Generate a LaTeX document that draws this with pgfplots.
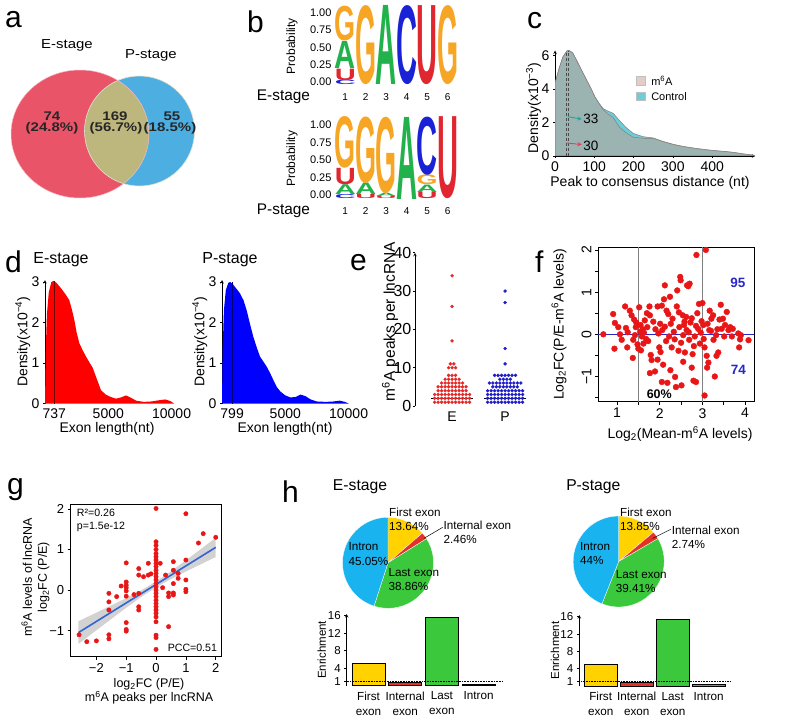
\documentclass[border=0pt]{standalone}
\usepackage{fontspec}
\setmainfont{Liberation Sans}
\usepackage{graphicx}
\usepackage{pgfplots}
\pgfplotsset{compat=1.18}

\definecolor{vred}{RGB}{234,84,104}
\definecolor{vblue}{RGB}{77,174,226}
\definecolor{vlens}{RGB}{190,183,125}
\definecolor{lgG}{RGB}{247,165,36}
\definecolor{lgA}{RGB}{34,178,76}
\definecolor{lgC}{RGB}{26,34,214}
\definecolor{lgU}{RGB}{224,38,47}
\definecolor{ccyan}{RGB}{110,205,215}
\definecolor{cpink}{RGB}{200,155,141}
\definecolor{arrcyan}{RGB}{40,160,160}
\definecolor{arrred}{RGB}{225,60,90}
\definecolor{ered}{RGB}{230,40,40}
\definecolor{eblue}{RGB}{30,30,200}
\definecolor{fred}{RGB}{232,22,22}
\definecolor{fblue}{RGB}{40,40,200}
\definecolor{gline}{RGB}{50,100,210}
\definecolor{pyel}{RGB}{255,210,0}
\definecolor{pred}{RGB}{228,50,40}
\definecolor{pgreen}{RGB}{60,200,60}
\definecolor{pblue}{RGB}{25,180,240}

\pgfplotsset{
  base/.style={scale only axis, scaled ticks=false,
    /pgf/number format/assume math mode=true,
    axis line style={-, line width=0.6pt},
    tick style={line width=0.6pt, black}},
}
\newcommand{\LL}[5]{\node[anchor=south, inner sep=0pt, outer sep=0pt] at (axis cs:#1,#2) {\resizebox*{21pt}{#3pt}{\textcolor{#4}{\bfseries #5}}};}
\newcommand{\fz}[1]{\fontsize{#1}{#1}\selectfont}

\begin{document}
\begin{tikzpicture}
\useasboundingbox (0pt,0pt) rectangle (800pt,-719pt);

% ================= overlay: venn, pies, titles, letters =================
\begin{axis}[at={(0pt,0pt)}, anchor=north west, scale only axis, width=800pt, height=719pt,
  xmin=0, xmax=800, ymin=0, ymax=719, y dir=reverse, hide axis, clip=false]
% Venn
\fill[vred] (axis cs:80,134) ellipse [x radius=69pt, y radius=64pt];
\fill[vblue] (axis cs:139.5,131) circle [radius=55pt];
\begin{scope}
\clip (axis cs:80,134) ellipse [x radius=69pt, y radius=64pt];
\fill[vlens] (axis cs:139.5,131) circle [radius=55pt];
\end{scope}
\draw[white!60!vlens, line width=0.6pt] (axis cs:139.5,131) circle [radius=55pt];
\draw[white!60!vred, line width=0.5pt] (axis cs:80,134) ellipse [x radius=69pt, y radius=64pt];
\node[anchor=base, font=\bfseries\fz{12.5}, text=black!85] at (axis cs:52,120) {\scalebox{1.2}[1]{74}};
\node[anchor=base, font=\bfseries\fz{12.5}, text=black!85] at (axis cs:52,131.5) {\scalebox{1.2}[1]{(24.8\%)}};
\node[anchor=base, font=\bfseries\fz{12.5}, text=black!85] at (axis cs:115,120) {\scalebox{1.2}[1]{169}};
\node[anchor=base, font=\bfseries\fz{12.5}, text=black!85] at (axis cs:116,131.5) {\scalebox{1.2}[1]{(56.7\%)}};
\node[anchor=base, font=\bfseries\fz{12.5}, text=black!85] at (axis cs:172,120) {\scalebox{1.2}[1]{55}};
\node[anchor=base, font=\bfseries\fz{12.5}, text=black!85] at (axis cs:170,131.5) {\scalebox{1.2}[1]{(18.5\%)}};
\node[anchor=base, font=\fz{13}] at (axis cs:67,48.3) {\scalebox{1.15}[1]{E-stage}};
\node[anchor=base, font=\fz{13}] at (axis cs:151,58.3) {\scalebox{1.15}[1]{P-stage}};
% panel letters
\node[anchor=base west, inner sep=0pt, font=\fz{30}] at (axis cs:5,27) {a};
\node[anchor=base west, inner sep=0pt, font=\fz{30}] at (axis cs:247,32) {b};
\node[anchor=base west, inner sep=0pt, font=\fz{30}] at (axis cs:527,28) {c};
\node[anchor=base west, inner sep=0pt, font=\fz{30}] at (axis cs:5,272) {d};
\node[anchor=base west, inner sep=0pt, font=\fz{30}] at (axis cs:350,270) {e};
\node[anchor=base west, inner sep=0pt, font=\fz{30}] at (axis cs:535,272) {f};
\node[anchor=base west, inner sep=0pt, font=\fz{30}] at (axis cs:7,494) {g};
\node[anchor=base west, inner sep=0pt, font=\fz{30}] at (axis cs:282,502) {h};
% titles
\node[anchor=base, font=\fz{15.4}] at (axis cs:283.5,100) {E-stage};
\node[anchor=base, font=\fz{15.4}] at (axis cs:283.5,214) {P-stage};
\node[anchor=base, font=\fz{16}] at (axis cs:61,263.3) {E-stage};
\node[anchor=base, font=\fz{16}] at (axis cs:230,263.3) {P-stage};
\node[anchor=base, font=\fz{15.7}] at (axis cs:360,490) {E-stage};
\node[anchor=base, font=\fz{15.7}] at (axis cs:593.3,490) {P-stage};
% pie E
\filldraw[fill=pyel, draw=white, line width=0.3pt] (axis cs:388,562.8) -- ++(90:45.5pt) arc[start angle=90, end angle=40.9, radius=45.5pt] -- cycle;
\filldraw[fill=pred, draw=white, line width=0.3pt] (axis cs:388,562.8) -- ++(40.9:45.5pt) arc[start angle=40.9, end angle=32.04, radius=45.5pt] -- cycle;
\filldraw[fill=pgreen, draw=white, line width=0.3pt] (axis cs:388,562.8) -- ++(32.04:45.5pt) arc[start angle=32.04, end angle=-107.86, radius=45.5pt] -- cycle;
\filldraw[fill=pblue, draw=white, line width=0.3pt] (axis cs:388,562.8) -- ++(-107.86:45.5pt) arc[start angle=-107.86, end angle=-270, radius=45.5pt] -- cycle;
% pie P
\filldraw[fill=pyel, draw=white, line width=0.3pt] (axis cs:618.7,561.5) -- ++(90:45.5pt) arc[start angle=90, end angle=40.14, radius=45.5pt] -- cycle;
\filldraw[fill=pred, draw=white, line width=0.3pt] (axis cs:618.7,561.5) -- ++(40.14:45.5pt) arc[start angle=40.14, end angle=30.28, radius=45.5pt] -- cycle;
\filldraw[fill=pgreen, draw=white, line width=0.3pt] (axis cs:618.7,561.5) -- ++(30.28:45.5pt) arc[start angle=30.28, end angle=-111.6, radius=45.5pt] -- cycle;
\filldraw[fill=pblue, draw=white, line width=0.3pt] (axis cs:618.7,561.5) -- ++(-111.6:45.5pt) arc[start angle=-111.6, end angle=-270, radius=45.5pt] -- cycle;
% pie labels E
\node[anchor=base west, inner sep=0pt, font=\fz{11.7}] at (axis cs:389,516.5) {First exon};
\node[anchor=base west, inner sep=0pt, font=\fz{11.7}] at (axis cs:389,530.5) {13.64\%};
\node[anchor=base west, inner sep=0pt, font=\fz{11.7}] at (axis cs:443.3,529) {Internal exon};
\node[anchor=base west, inner sep=0pt, font=\fz{11.7}] at (axis cs:443.3,543) {2.46\%};
\node[anchor=base west, inner sep=0pt, font=\fz{11.7}] at (axis cs:348.3,550.7) {Intron};
\node[anchor=base west, inner sep=0pt, font=\fz{11.7}] at (axis cs:348.3,565) {45.05\%};
\node[anchor=base west, inner sep=0pt, font=\fz{11.7}] at (axis cs:388.3,576) {Last exon};
\node[anchor=base west, inner sep=0pt, font=\fz{11.7}] at (axis cs:388.3,590) {38.86\%};
\draw[black, line width=0.5pt] (axis cs:424,538.3) -- (axis cs:442.7,527.3);
% pie labels P
\node[anchor=base west, inner sep=0pt, font=\fz{11.7}] at (axis cs:620,516) {First exon};
\node[anchor=base west, inner sep=0pt, font=\fz{11.7}] at (axis cs:620,530) {13.85\%};
\node[anchor=base west, inner sep=0pt, font=\fz{11.7}] at (axis cs:671.7,534) {Internal exon};
\node[anchor=base west, inner sep=0pt, font=\fz{11.7}] at (axis cs:671.7,548.3) {2.74\%};
\node[anchor=base west, inner sep=0pt, font=\fz{11.7}] at (axis cs:580,550.7) {Intron};
\node[anchor=base west, inner sep=0pt, font=\fz{11.7}] at (axis cs:580,564) {44\%};
\node[anchor=base west, inner sep=0pt, font=\fz{11.7}] at (axis cs:615.7,578.3) {Last exon};
\node[anchor=base west, inner sep=0pt, font=\fz{11.7}] at (axis cs:615.7,592.3) {39.41\%};
\draw[black, line width=0.5pt] (axis cs:652.7,538.3) -- (axis cs:670.7,529.3);
\end{axis}

% ================= b: E-stage logo =================
\begin{axis}[base, at={(335pt,-6pt)}, anchor=north west, width=123pt, height=79pt,
  xmin=0.5, xmax=6.5, ymin=0, ymax=1, clip=false,
  axis line style={draw=none}, tick style={draw=none},
  xtick={1,2,3,4,5,6}, ytick={0.038,0.257,0.476,0.695,0.914},
  yticklabels={0.00,0.25,0.50,0.75,1.00},
  xticklabel style={font=\fz{10}, yshift=-5pt},
  yticklabel style={font=\fz{11}},
  ylabel={Probability},
  ylabel style={at={(axis description cs:-0.35,0.49)}, anchor=center, font=\fz{12}}]
\LL{1}{0}{4.5}{lgC}{C}
\LL{1}{0.06}{11.5}{lgU}{U}
\LL{1}{0.21}{27}{lgA}{A}
\LL{1}{0.56}{34.8}{lgG}{G}
\LL{2}{0}{79}{lgG}{G}
\LL{3}{0}{79}{lgA}{A}
\LL{4}{0}{79}{lgC}{C}
\LL{5}{0}{79}{lgU}{U}
\LL{6}{0}{79}{lgG}{G}
\end{axis}

% ================= b: P-stage logo =================
\begin{axis}[base, at={(335pt,-117pt)}, anchor=north west, width=123pt, height=82pt,
  xmin=0.5, xmax=6.5, ymin=0, ymax=1, clip=false,
  axis line style={draw=none}, tick style={draw=none},
  xtick={1,2,3,4,5,6}, ytick={0.049,0.262,0.476,0.689,0.902},
  yticklabels={0.00,0.25,0.50,0.75,1.00},
  xticklabel style={font=\fz{10}, yshift=-5pt},
  yticklabel style={font=\fz{11}},
  ylabel={Probability},
  ylabel style={at={(axis description cs:-0.35,0.49)}, anchor=center, font=\fz{12}}]
\LL{1}{0}{4.1}{lgC}{C}
\LL{1}{0.05}{9.8}{lgA}{A}
\LL{1}{0.17}{16.4}{lgU}{U}
\LL{1}{0.37}{51.7}{lgG}{G}
\LL{2}{0}{4.1}{lgU}{U}
\LL{2}{0.05}{11.5}{lgA}{A}
\LL{2}{0.19}{66.4}{lgG}{G}
\LL{3}{0}{2.5}{lgU}{U}
\LL{3}{0.03}{3.3}{lgA}{A}
\LL{3}{0.07}{76.3}{lgG}{G}
\LL{4}{0}{82}{lgA}{A}
\LL{5}{0}{6.6}{lgU}{U}
\LL{5}{0.08}{7.4}{lgA}{A}
\LL{5}{0.17}{9.8}{lgG}{G}
\LL{5}{0.29}{58.2}{lgC}{C}
\LL{6}{0}{82}{lgU}{U}
\end{axis}

% ================= c: density =================
\begin{axis}[base, at={(555pt,-50.5pt)}, anchor=north west, width=200.4pt, height=105.5pt,
  xmin=0, xmax=510, ymin=0, ymax=6.3,
  axis x line=bottom, axis y line=left,
  xtick={0,100,200,300,400}, ytick={0,2,4,6},
  tick align=outside, major tick length=2pt,
  tick label style={font=\fz{14}},
  ylabel={Density(x10\textsuperscript{−3})},
  ylabel style={at={(axis description cs:-0.107,0.455)}, anchor=center, font=\fz{14}},
  xlabel={Peak to consensus distance (nt)},
  xlabel style={at={(axis description cs:0.474,-0.256)}, anchor=center, font=\fz{14}},
  legend image code/.code={\filldraw[#1] (0pt,-3.5pt) rectangle (8.5pt,5pt);},
  legend style={at={(axis description cs:0.405,0.78)}, anchor=north west, draw=none, fill=none,
    font=\fz{11}, row sep=1.5pt, inner sep=0pt,
    /tikz/every odd column/.append style={column sep=4pt}},
  legend cell align=left]
\addlegendimage{fill=white!50!cpink, draw=gray!50}
\addlegendentry{m\textsuperscript{6}A}
\addlegendimage{fill=ccyan, draw=gray!50}
\addlegendentry{Control}
\addplot[fill=ccyan, draw=gray, line width=0.5pt] coordinates {
(0,4.35)(10,5.2)(20,5.9)(30,6.25)(35,6.3)(45,6.15)(55,5.7)(70,5.0)(81,4.5)(92,4.0)(102,3.5)(113,3.12)(123,2.82)(135,2.68)(148,2.55)(164,2.12)(180,1.72)(199,1.35)(225,1.15)(250,1.08)(275,0.86)(301,0.68)(325,0.56)(352,0.46)(378,0.38)(403,0.32)(430,0.27)(454,0.21)(480,0.11)(505,0.04)} \closedcycle;
\addplot[fill=cpink, fill opacity=0.5, draw=gray, line width=0.5pt] coordinates {
(0,4.35)(10,5.2)(20,5.92)(30,6.27)(35,6.32)(45,6.17)(55,5.72)(70,5.02)(81,4.52)(92,4.02)(102,3.52)(113,3.1)(123,2.75)(135,2.5)(148,2.3)(164,1.72)(180,1.4)(199,1.12)(225,1.06)(250,1.05)(275,0.87)(301,0.7)(325,0.58)(352,0.48)(378,0.4)(403,0.33)(430,0.28)(454,0.22)(480,0.13)(505,0.05)} \closedcycle;
\addplot[densely dashed, black!70, line width=0.6pt] coordinates {(30,0)(30,6.24)};
\addplot[densely dashed, black!70, line width=0.6pt] coordinates {(33,0)(33,6.28)};
\addplot[-stealth, arrcyan, line width=0.9pt] coordinates {(33,2.35)(68,2.2)};
\addplot[-stealth, arrred, line width=0.9pt] coordinates {(30,0.78)(68,0.68)};
\node[anchor=west, inner sep=1pt, font=\fz{13.5}] at (axis cs:69,2.2) {33};
\node[anchor=west, inner sep=1pt, font=\fz{13.5}] at (axis cs:69,0.62) {30};
\end{axis}

% ================= d: E-stage =================
\begin{axis}[base, at={(45pt,-280pt)}, anchor=north west, width=145.6pt, height=123.5pt,
  xmin=0, xmax=11500, ymin=0, ymax=3.05,
  axis y line=left, axis x line=bottom, x axis line style={draw=none},
  xtick={737,5000,10000}, xticklabels={737,5000,10000}, xtick style={draw=none},
  ytick={0,1,2,3}, tick align=outside, major tick length=2pt,
  tick label style={font=\fz{14}},
  ylabel={Density(x10\textsuperscript{−4})},
  ylabel style={at={(axis description cs:-0.153,0.5)}, anchor=center, font=\fz{14}},
  xlabel={Exon length(nt)},
  xlabel style={at={(axis description cs:0.426,-0.206)}, anchor=center, font=\fz{14}}]
\addplot[fill=red, draw=none] coordinates {
(0,0)(60,1.3)(150,2.2)(300,2.75)(500,3.0)(700,3.03)(900,2.98)(1260,2.85)(1660,2.68)(1920,2.55)(2100,2.35)(2320,2.06)(2500,1.75)(2710,1.49)(3000,1.3)(3240,1.16)(3500,1.02)(3770,0.88)(4100,0.6)(4420,0.33)(4800,0.22)(5200,0.16)(5600,0.12)(6000,0.15)(6400,0.2)(6800,0.14)(7200,0.07)(7800,0.04)(8400,0.05)(9000,0.08)(9500,0.1)(9900,0.06)(10200,0)} \closedcycle;
\addplot[black!55!red, line width=0.8pt] coordinates {(737,0)(737,3.03)};
\end{axis}

% ================= d: P-stage =================
\begin{axis}[base, at={(222pt,-280pt)}, anchor=north west, width=145.6pt, height=123.5pt,
  xmin=0, xmax=11500, ymin=0, ymax=3.05,
  axis y line=left, axis x line=bottom, x axis line style={draw=none},
  xtick={799,5000,10000}, xticklabels={799,5000,10000}, xtick style={draw=none},
  ytick={0,1,2,3}, tick align=outside, major tick length=2pt,
  tick label style={font=\fz{14}},
  ylabel={Density(x10\textsuperscript{−4})},
  ylabel style={at={(axis description cs:-0.153,0.5)}, anchor=center, font=\fz{14}},
  xlabel={Exon length(nt)},
  xlabel style={at={(axis description cs:0.433,-0.206)}, anchor=center, font=\fz{14}}]
\addplot[fill=blue, draw=none] coordinates {
(0,0)(50,1.3)(150,2.3)(300,2.8)(500,2.98)(650,3.0)(850,2.95)(1100,2.85)(1400,2.73)(1700,2.55)(1950,2.3)(2200,1.98)(2470,1.65)(2750,1.38)(3000,1.16)(3300,1.02)(3530,0.91)(3800,0.75)(4100,0.55)(4320,0.41)(4600,0.3)(5000,0.2)(5400,0.15)(5800,0.16)(6200,0.22)(6600,0.18)(7000,0.1)(7500,0.05)(8200,0.04)(8800,0.05)(9300,0.07)(9700,0.04)(10000,0)} \closedcycle;
\addplot[black!55!blue, line width=0.8pt] coordinates {(799,0)(799,3.0)};
\end{axis}

% ================= e: dot plot =================
\begin{axis}[base, at={(415pt,-252.8pt)}, anchor=north west, width=116.6pt, height=153.2pt,
  xmin=0.3, xmax=2.5, ymin=0, ymax=40, clip=false,
  axis y line=left, axis x line=bottom, x axis line style={draw=none},
  xtick={1,2}, xticklabels={E,P}, xtick style={draw=none},
  ytick={0,10,20,30,40}, tick align=outside, major tick length=2pt,
  yticklabel style={font=\fz{16}, inner sep=1.5pt},
  xticklabel style={font=\fz{14}},
  ylabel={m\textsuperscript{6}A peaks per lncRNA},
  ylabel style={at={(axis description cs:-0.214,0.55)}, anchor=center, font=\fz{15.5}}]
\addplot[only marks, mark=*, mark size=1.5pt, ered, mark options={draw=none, fill=ered}] coordinates {
(0.67,1)(0.736,1)(0.802,1)(0.868,1)(0.934,1)(1,1)(1.066,1)(1.132,1)(1.198,1)(1.264,1)(1.33,1)
(0.67,2)(0.736,2)(0.802,2)(0.868,2)(0.934,2)(1,2)(1.066,2)(1.132,2)(1.198,2)(1.264,2)(1.33,2)
(0.67,3)(0.736,3)(0.802,3)(0.868,3)(0.934,3)(1,3)(1.066,3)(1.132,3)(1.198,3)(1.264,3)(1.33,3)
(0.736,4)(0.802,4)(0.868,4)(0.934,4)(1,4)(1.066,4)(1.132,4)(1.198,4)(1.264,4)
(0.736,5)(0.802,5)(0.868,5)(0.934,5)(1,5)(1.066,5)(1.132,5)(1.198,5)(1.264,5)
(0.802,6)(0.868,6)(0.934,6)(1,6)(1.066,6)(1.132,6)(1.198,6)
(0.868,7)(0.934,7)(1,7)(1.066,7)(1.132,7)
(0.934,8)(1,8)(1.066,8)
(0.934,10)(1,10)(1.066,10)
(0.967,11)(1.033,11)
(1,17)(1,26)(1,34)};
\addplot[only marks, mark=*, mark size=1.5pt, eblue, mark options={draw=none, fill=eblue}] coordinates {
(1.67,1)(1.736,1)(1.802,1)(1.868,1)(1.934,1)(2,1)(2.066,1)(2.132,1)(2.198,1)(2.264,1)(2.33,1)
(1.67,2)(1.736,2)(1.802,2)(1.868,2)(1.934,2)(2,2)(2.066,2)(2.132,2)(2.198,2)(2.264,2)(2.33,2)
(1.67,3)(1.736,3)(1.802,3)(1.868,3)(1.934,3)(2,3)(2.066,3)(2.132,3)(2.198,3)(2.264,3)(2.33,3)
(1.67,4)(1.736,4)(1.802,4)(1.868,4)(1.934,4)(2,4)(2.066,4)(2.132,4)(2.198,4)(2.264,4)(2.33,4)
(1.769,5)(1.835,5)(1.901,5)(1.967,5)(2.033,5)(2.099,5)(2.165,5)(2.231,5)
(1.703,6)(1.769,6)(1.835,6)(1.901,6)(1.967,6)(2.033,6)(2.099,6)(2.165,6)(2.231,6)(2.297,6)
(1.901,7)(1.967,7)(2.033,7)(2.099,7)
(1.802,8)(1.868,8)(1.934,8)(2,8)(2.066,8)(2.132,8)(2.198,8)
(2,11)(2,15)(2,27)(2,30)};
\addplot[black, line width=1.2pt] coordinates {(0.6,2)(1.4,2)};
\addplot[black, line width=1.2pt] coordinates {(1.6,2)(2.4,2)};
\end{axis}

% ================= f: scatter =================
\begin{axis}[base, at={(598pt,-247pt)}, anchor=north west, width=156pt, height=154.7pt,
  xmin=0.555, xmax=4.208, ymin=-1.597, ymax=2.069,
  xtick={1,2,3,4}, ytick={-1,0,1,2}, yticklabels={−1,0,1,2},
  minor xtick={1.5,2.5,3.5}, minor ytick={-1.5,-0.5,0.5,1.5},
  tick align=outside, xtick pos=left, ytick pos=left,
  major tick length=3pt, minor tick length=3pt,
  minor tick style={line width=0.6pt, black},
  tick label style={font=\fz{14}},
  yticklabel style={rotate=90, anchor=south},
  ylabel={Log\textsubscript{2}FC(P/E-m\textsuperscript{6}A levels)},
  ylabel style={at={(axis description cs:-0.25,0.5)}, anchor=center, font=\fz{14}},
  xlabel={Log\textsubscript{2}(Mean-m\textsuperscript{6}A levels)},
  xlabel style={at={(axis description cs:0.526,-0.209)}, anchor=center, font=\fz{14}}]
\addplot[gray, line width=0.7pt] coordinates {(1.5,-1.597)(1.5,2.069)};
\addplot[gray, line width=0.7pt] coordinates {(3,-1.597)(3,2.069)};
\addplot[only marks, mark=*, mark size=2.9pt, fred, mark options={draw=none, fill=fred}] coordinates {
(0.68,0)(0.91,0.48)(0.95,0.27)(0.94,-0.34)(1.03,0.17)(1.07,0)(1.11,-0.13)(1.19,0.66)(1.21,0.15)(1.24,-0.31)(1.3,0.56)(1.34,0.45)(1.37,-0.56)(1.38,-0.13)(1.4,0.35)(1.42,-0.02)(1.44,0.17)(1.48,-0.24)(1.5,-0.34)(1.52,0.64)(1.54,0.06)(1.55,0.22)(1.58,-0.05)(1.6,0.12)(1.63,0.04)(1.65,0.33)(1.68,-0.11)(1.71,0.17)(1.73,-0.16)(1.76,0.66)(1.77,0.45)(1.79,-0.49)(1.81,-0.61)(1.77,-0.92)(1.89,-0.88)(1.95,0.66)(1.97,0.02)(1.99,-0.31)(2.01,0.25)(2.05,-1.13)(2.06,0.1)(2.08,-0.72)(2.1,0.83)(2.12,1.16)(2.15,-0.16)(2.16,0.56)(2.18,-1.15)(2.2,0.48)(2.22,-0.05)(2.24,0.89)(2.26,0.25)(2.28,-0.31)(2.3,0.37)(2.33,0.06)(2.36,-1.01)(2.38,-1.25)(2.4,0.66)(2.41,1.04)(2.44,-0.39)(2.46,0.17)(2.48,1.36)(2.49,1.28)(2.51,-1.21)(2.54,0.45)(2.55,-0.02)(2.57,0.22)(2.59,-0.43)(2.62,0.41)(2.63,0.1)(2.64,1.16)(2.67,1.14)(2.69,-0.13)(2.7,1.2)(2.72,0.28)(2.75,-0.79)(2.77,-0.47)(2.79,-1.1)(2.82,-0.05)(2.85,-1.13)(2.86,1.88)(2.88,0.5)(2.9,0.13)(2.92,0.72)(2.94,-0.22)(2.96,0.04)(2.98,0.31)(3,0.74)(3.02,0.22)(3.03,-0.11)(3.05,-0.31)(3.08,2.0)(3.05,-1.45)(3.1,-0.51)(3.11,-0.79)(3.14,-0.67)(3.16,0.1)(3.17,0.56)(3.21,0.37)(3.26,-0.13)(3.29,-1.0)(3.32,-0.02)(3.33,-0.51)(3.37,-0.43)(3.4,0.35)(3.43,0.7)(3.45,0.13)(3.48,0.37)(3.51,-0.05)(3.53,0.22)(3.57,0.53)(3.61,0.1)(3.65,0.17)(3.69,-0.05)(3.71,0.13)(3.84,0.02)(3.86,-0.31)(3.9,-0.02)(4.08,-0.14)(3.88,-0.12)
(1.62,-0.22)(1.85,0.3)(1.9,0.12)(2.02,-0.42)(2.12,0.18)(2.35,-0.12)(2.45,0.52)(2.5,-0.2)(2.58,0.3)(2.68,0.05)(2.75,0.38)(2.8,-0.28)(3.12,0.25)(3.2,0.08)(3.25,0.45)(3.35,0.12)(1.25,0.05)(1.45,0.28)(1.56,-0.38)(1.7,0.5)(1.95,-0.6)(2.25,-0.85)(2.55,-0.65)(2.05,0.68)(2.85,0.2)};
\addplot[fblue, line width=0.8pt] coordinates {(0.555,0)(4.208,0)};
\node[font=\bfseries\fz{13.5}, text=fblue] at (axis cs:3.83,1.21) {95};
\node[font=\bfseries\fz{13.5}, text=fblue] at (axis cs:3.84,-0.84) {74};
\node[font=\bfseries\fz{12.5}] at (axis cs:1.99,-1.41) {60\%};
\end{axis}

% ================= g: scatter regression =================
\begin{axis}[base, at={(70.7pt,-504pt)}, anchor=north west, width=151pt, height=152.7pt,
  xmin=-2.86, xmax=2.2, ymin=-1.64, ymax=2.12,
  xtick={-2,-1,0,1,2}, xticklabels={−2,−1,0,1,2},
  ytick={-1,0,1,2}, yticklabels={−1,0,1,2},
  tick align=outside, xtick pos=left, ytick pos=left, major tick length=3pt,
  tick label style={font=\fz{13}},
  ylabel={m\textsuperscript{6}A levels of lncRNA\\log\textsubscript{2}FC (P/E)},
  ylabel style={at={(axis description cs:-0.233,0.52)}, anchor=center, align=center, font=\fontsize{12.5}{15}\selectfont},
  xlabel={log\textsubscript{2}FC (P/E)\\m\textsuperscript{6}A peaks per lncRNA},
  xlabel style={at={(axis description cs:0.519,-0.225)}, anchor=center, align=center, font=\fontsize{12.5}{14.5}\selectfont}]
\addplot[fill=gray!35, draw=none] coordinates {
(-2.6,-0.766)(-2,-0.554)(-1.5,-0.377)(-1,-0.196)(-0.5,-0.006)(0,0.211)(0.5,0.464)(1,0.734)(1.5,1.011)(2,1.29)(2,0.814)(1.5,0.637)(1,0.458)(0.5,0.272)(0,0.069)(-0.5,-0.17)(-1,-0.436)(-1.5,-0.711)(-2,-0.99)(-2.6,-1.326)};
\addplot[only marks, mark=*, mark size=2.2pt, fred, mark options={draw=none, fill=fred}] coordinates {
(-2.58,-1.1)(-2.32,-1.27)(-2,-1.25)(-1.58,-0.08)(-1.58,-0.29)(-1.58,-0.49)(-1.58,-1.1)(-1.58,-1.2)(-1.32,-0.16)(-1.17,0.1)(-1,0.67)(-1,0.2)(-1,0.12)(-1,0.06)(-1,-0.02)(-1,-0.15)(-1,-0.8)(-1,-0.97)(-1,-1.01)(-0.74,-0.11)(-0.58,0.53)(-0.58,0.37)(-0.58,-0.08)(-0.58,-0.41)(-0.58,-0.49)(-0.42,0.33)(-0.26,0.66)(-0.26,0.37)(-0.17,0.4)
(0,2.01)(0,1.19)(0,1.1)(0,1.0)(0,0.9)(0,0.82)(0,0.74)(0,0.66)(0,0.58)(0,0.49)(0,0.41)(0,0.33)(0,0.25)(0,0.16)(0,0.08)(0,0)(0,-0.08)(0,-0.16)(0,-0.25)(0,-0.33)(0,-0.41)(0,-0.49)(0,-0.57)(0,-0.66)(0,-0.78)(0,-1.11)(0,-1.17)(0,-1.46)
(0.14,0.66)(0.22,0.06)(0.32,0.37)(0.42,-0.07)(0.42,-0.16)(0.42,-0.9)(0.58,-0.07)(0.58,-0.12)(0.58,0.49)(0.58,0.7)(0.58,0.16)(0.74,0.29)(0.74,0.41)(1,0.74)(1,0.25)(1,0.02)(1,-0.04)(1,1.88)(1.42,1.16)(1.58,1.39)(2,1.3)};
\addplot[gline, line width=1.6pt] coordinates {(-2.6,-1.046)(2,1.052)};
\node[anchor=north west, align=left, inner sep=0pt, font=\fontsize{10.6}{13}\selectfont] at (axis description cs:0.04,0.965) {R²=0.26\\p=1.5e-12};
\node[anchor=south east, inner sep=0pt, font=\fz{10.6}] at (axis description cs:0.97,0.03) {PCC=0.51};
\end{axis}

% ================= h: E-stage bars =================
\begin{axis}[base, at={(346.7pt,-614pt)}, anchor=north west, width=155.3pt, height=71.75pt,
  xmin=0.406, xmax=4.638, ymin=0, ymax=16.4, clip=false,
  axis y line=left, axis x line=bottom, x axis line style={draw=none},
  xtick={1,2,3,4}, xticklabels={{First\\exon},{Internal\\exon},{Last\\exon},{Intron}},
  xtick style={draw=none},
  xticklabel style={align=center, font=\fontsize{11.7}{15}\selectfont},
  ytick={1,4,8,12,16}, tick align=outside, major tick length=2.5pt,
  yticklabel style={font=\fz{11.5}},
  ylabel={Enrichment},
  ylabel style={at={(axis description cs:-0.161,0.5)}, anchor=center, font=\fz{11.5}}]
\addplot[ybar, bar width=33pt, fill=pyel, draw=black, line width=0.6pt] coordinates {(1,5.1)};
\addplot[ybar, bar width=33pt, fill=pred, draw=black, line width=0.6pt] coordinates {(2,0.9)};
\addplot[ybar, bar width=33pt, fill=pgreen, draw=black, line width=0.6pt] coordinates {(3,15.6)};
\addplot[ybar, bar width=33pt, fill=pblue, draw=black, line width=0.6pt] coordinates {(4,0.4)};
\addplot[black, densely dotted, line width=0.6pt] coordinates {(0.406,1)(4.638,1)};
\end{axis}

% ================= h: P-stage bars =================
\begin{axis}[base, at={(579.3pt,-615pt)}, anchor=north west, width=150.7pt, height=71pt,
  xmin=0.406, xmax=4.592, ymin=0, ymax=16.4, clip=false,
  axis y line=left, axis x line=bottom, x axis line style={draw=none},
  xtick={1,2,3,4}, xticklabels={{First\\exon},{Internal\\exon},{Last\\exon},{Intron}},
  xtick style={draw=none},
  xticklabel style={align=center, font=\fontsize{11.7}{15}\selectfont},
  ytick={1,4,8,12,16}, tick align=outside, major tick length=2.5pt,
  yticklabel style={font=\fz{11.5}},
  ylabel={Enrichment},
  ylabel style={at={(axis description cs:-0.161,0.5)}, anchor=center, font=\fz{11.5}}]
\addplot[ybar, bar width=32.5pt, fill=pyel, draw=black, line width=0.6pt] coordinates {(1,5.1)};
\addplot[ybar, bar width=32.5pt, fill=pred, draw=black, line width=0.6pt] coordinates {(2,0.9)};
\addplot[ybar, bar width=32.5pt, fill=pgreen, draw=black, line width=0.6pt] coordinates {(3,15.5)};
\addplot[ybar, bar width=32.5pt, fill=pblue, draw=black, line width=0.6pt] coordinates {(4,0.35)};
\addplot[black, densely dotted, line width=0.6pt] coordinates {(0.406,1)(4.592,1)};
\end{axis}
\end{tikzpicture}
\end{document}
